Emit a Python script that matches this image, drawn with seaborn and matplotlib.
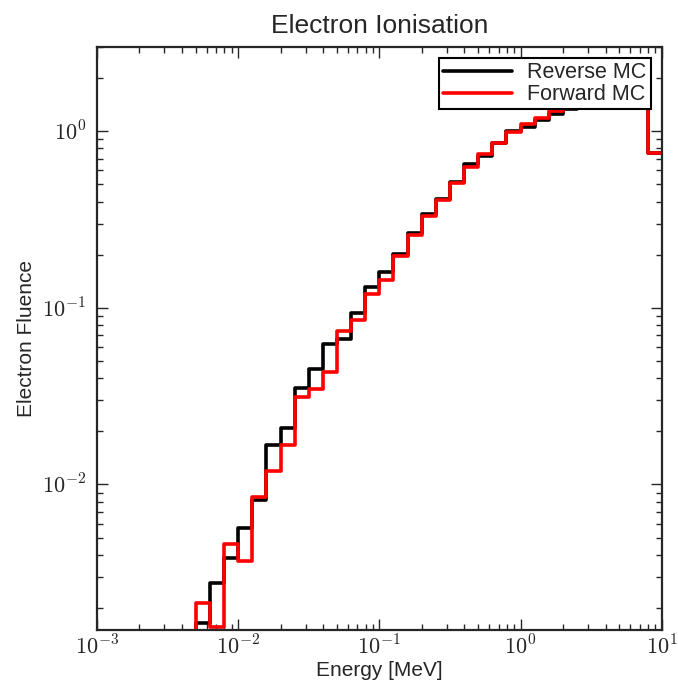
import numpy as np
import matplotlib
matplotlib.use('Agg')
import matplotlib.pyplot as plt
import seaborn as sns
from matplotlib.ticker import FuncFormatter, NullFormatter, LogLocator

# bin edges: 10 bins per decade, from 10^-2.3 up to 10^1 MeV
edge_exponents = np.arange(-23, 11) / 10
edges = 10 ** edge_exponents

reverse_mc = [1.65e-3, 2.77e-3, 3.81e-3, 5.69e-3, 8.22e-3, 0.0167, 0.0208, 0.0352,
              0.0453, 0.0627, 0.0663, 0.0930, 0.131, 0.160, 0.203, 0.265, 0.340,
              0.411, 0.519, 0.650, 0.725, 0.859, 1.00, 1.058, 1.165, 1.26, 1.33,
              1.42, 1.47, 1.50, 1.52, 1.53, 0.757]
forward_mc = [2.14e-3, 1.55e-3, 4.61e-3, 3.71e-3, 8.55e-3, 0.01185, 0.0168, 0.0312,
              0.0348, 0.0431, 0.0736, 0.0850, 0.1203, 0.1432, 0.197, 0.2585, 0.332,
              0.409, 0.507, 0.628, 0.748, 0.863, 0.991, 1.096, 1.19, 1.30, 1.355,
              1.43, 1.48, 1.51, 1.53, 1.54, 0.757]
baseline = 1e-5

sns.set_style('ticks')
plt.rcParams['font.family'] = ['Liberation Sans', 'DejaVu Sans']
plt.rcParams['mathtext.fontset'] = 'cm'


def step_xy(values):
    x = np.concatenate([[edges[0]], edges])
    y = np.concatenate([[baseline], values, [values[-1]]])
    return x, y


fig = plt.figure(figsize=(6.78, 6.83), dpi=100)
ax = fig.add_axes([0.143, 0.0776, 0.833, 0.8536])

for vals, label, color in [(reverse_mc, 'Reverse MC', 'black'),
                           (forward_mc, 'Forward MC', 'red')]:
    x, y = step_xy(vals)
    sns.lineplot(x=x, y=y, ax=ax, color=color, label=label, linewidth=2.6,
                 drawstyle='steps-post', estimator=None, sort=False)

ax.set_xscale('log')
ax.set_yscale('log')
ax.set_xlim(1e-3, 1e1)
ax.set_ylim(1.5e-3, 3.0)

fmt = FuncFormatter(lambda v, p: r'$10^{%d}$' % round(np.log10(v)))
ax.xaxis.set_major_locator(LogLocator(base=10, numticks=10))
ax.xaxis.set_major_formatter(fmt)
ax.yaxis.set_major_formatter(fmt)
ax.xaxis.set_minor_formatter(NullFormatter())
ax.yaxis.set_minor_formatter(NullFormatter())
ax.tick_params(which='both', direction='in', top=True, right=True, labelsize=16)
ax.tick_params(axis='x', which='both', pad=4)
ax.tick_params(axis='y', which='both', pad=8)
ax.tick_params(which='major', length=8, width=1)
ax.tick_params(which='minor', length=4, width=1)
for s in ax.spines.values():
    s.set_linewidth(1.6)

ax.set_title('Electron Ionisation', fontsize=19, pad=10)
ax.set_xlabel('Energy [MeV]', fontsize=15, labelpad=1)
ax.set_ylabel('Electron Fluence', fontsize=15)

leg = ax.legend(loc='upper right', fontsize=15.5, handlelength=3.2, fancybox=False,
                framealpha=1, edgecolor='black', borderaxespad=0.5,
                borderpad=0.2, labelspacing=0.05, handletextpad=0.7)
leg.get_frame().set_linewidth(1.5)

fig.savefig('out.png', dpi=100)
